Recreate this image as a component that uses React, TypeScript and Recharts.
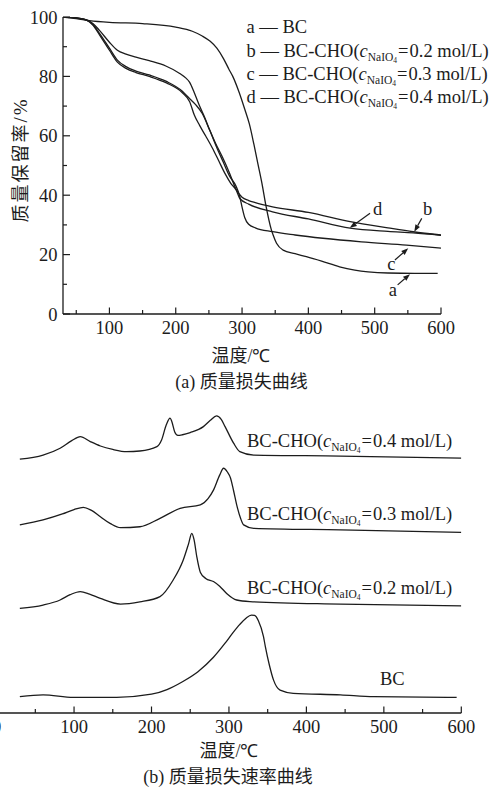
import React from 'react';
import { LineChart, Line, XAxis, YAxis, ReferenceLine } from 'recharts';

const SERIF = 'Liberation Serif';
const CJK = 'Noto Sans CJK SC';
const INK = '#1c1c1c';

// ---------- (a) mass loss curves (TGA) ----------
const tgaXTicks = [50, 100, 150, 200, 250, 300, 350, 400, 450, 500, 550, 600];
const tgaYTicks = [0, 10, 20, 30, 40, 50, 60, 70, 80, 90, 100];

const tgaA_T = [30, 50, 70, 100, 150, 200, 225, 240, 252, 262, 272, 280, 286, 295, 304, 311, 318, 324, 330, 336, 344, 347, 352, 362, 380, 397, 420, 447, 470, 490, 520, 560, 595];
const tgaA_V = [100, 99.5, 98.8, 98.2, 97.8, 96.6, 95.2, 93.6, 91.8, 89.5, 86, 82.5, 80, 75, 69, 64, 57, 50.5, 44, 36.5, 28.5, 26.5, 23.8, 21.5, 20.3, 19.3, 17.8, 15.9, 14.8, 14.2, 13.8, 13.7, 13.7];

const tgaB_T = [30, 50, 65, 75, 85, 100, 112, 125, 140, 160, 185, 206, 215, 221, 228, 236, 244, 251, 260, 270, 281, 291, 300, 310, 320, 346, 400, 463, 520, 558, 600];
const tgaB_V = [100, 99.7, 99, 97.8, 95.5, 91.5, 88.8, 87.5, 86.5, 85.3, 83.5, 81, 79.5, 78, 74.5, 70, 66, 62, 57.5, 53, 47.5, 42, 39.3, 38.2, 37.5, 36.1, 34.2, 31.1, 29, 27.7, 26.6];

const tgaC_T = [30, 50, 65, 75, 85, 100, 112, 125, 140, 160, 186, 210, 221, 230, 240, 251, 262, 272, 281, 291, 296, 300, 304, 310, 320, 346, 380, 422, 480, 548, 600];
const tgaC_V = [100, 99.7, 99, 97.5, 94.5, 89.5, 85.5, 83.3, 81.8, 80.5, 78.3, 75, 72.5, 70.5, 67.5, 62, 56, 51, 46.5, 43, 40, 36, 32.5, 30.2, 29, 27.7, 26.6, 25.5, 24.3, 23.2, 22.2];

const tgaD_T = [30, 50, 65, 75, 85, 100, 112, 125, 140, 160, 186, 210, 221, 228, 236, 245, 255, 265, 275, 283, 291, 297, 310, 346, 400, 463, 520, 558, 600];
const tgaD_V = [100, 99.7, 99, 97.3, 94, 88.8, 84.8, 82.7, 81.3, 80, 77.8, 74.5, 71.5, 67, 63.5, 60, 56, 51.5, 47, 44, 41.8, 38.8, 37, 34.4, 32, 28.9, 27.8, 27.3, 26.5];

// annotation arrows: [tailT, tailV, tipT, tipV]
const arrowD = [493, 33.9, 462.5, 29.0];
const arrowB = [571, 32.2, 559.7, 27.7];
const arrowC = [530.5, 18.2, 550.6, 22.1];
const arrowA = [534.6, 9.8, 553.2, 13.4];

const legendRows = [
  { letter: 'a', conc: '' },
  { letter: 'b', conc: '0.2' },
  { letter: 'c', conc: '0.3' },
  { letter: 'd', conc: '0.4' },
];

// ---------- (b) mass loss rate curves (DTG, offset, arbitrary units) ----------
const dtgXTicks = [0, 50, 100, 150, 200, 250, 300, 350, 400, 450, 500, 550, 600];

const dtgD_T = [30, 60, 82, 97, 108, 121, 134, 150, 168, 185, 207, 213, 219, 224, 226, 230, 234, 240, 250, 267, 276, 284, 290, 295, 306, 314, 332, 444, 600];
const dtgD_V = [81.1, 82.4, 84.6, 87, 88.3, 86.7, 85.3, 84.2, 83.5, 83.7, 85.1, 87.2, 92, 94.2, 93.3, 89.8, 88.7, 88.9, 89.6, 91.5, 93.5, 94.9, 93.8, 91.5, 86.2, 83.5, 82.4, 82.1, 81.4];

const dtgC_T = [30, 60, 85, 100, 112, 122, 134, 147, 160, 185, 211, 237, 263, 273, 280, 288, 293, 298, 302, 306, 310, 315, 319, 332, 444, 600];
const dtgC_V = [60.1, 61.7, 63.6, 65, 65.7, 64.8, 62.7, 60.5, 59.2, 59.5, 62.2, 65.4, 66.5, 68.5, 71.2, 76, 78.2, 77, 75.1, 71, 66.5, 62.2, 60.1, 59, 58.5, 57.7];

const dtgB_T = [30, 60, 82, 95, 108, 120, 134, 160, 185, 211, 228, 241, 248, 252, 255, 258.5, 263, 270, 280, 288, 297, 310, 327, 444, 600];
const dtgB_V = [33.4, 34.5, 36.1, 37.8, 38.8, 38, 36.6, 34.8, 35.5, 37.2, 42.5, 48.9, 54.2, 57.4, 55.3, 49.9, 45, 43, 42, 40.5, 38.2, 36.1, 35.6, 34.8, 34.2];

const dtgBC_T = [30, 60, 99, 155, 200, 220, 240, 260, 280, 295, 305, 314, 322, 329, 333, 338, 344.6, 347, 352, 357.6, 366, 383, 444, 487, 594];
const dtgBC_V = [5.2, 5.8, 5.0, 5.0, 6.0, 7.5, 10, 13.2, 17.8, 22.3, 25.6, 28.3, 30.3, 31.3, 31.2, 29.5, 24.4, 21.2, 15.5, 10.5, 7.3, 6.3, 5.8, 5.2, 5.0];

const dtgLabels = [
  { conc: '0.4' },
  { conc: '0.3' },
  { conc: '0.2' },
];

const zip = (ts: number[], vs: number[]) => ts.map((t, i) => ({ t, v: vs[i] }));

const serifStyle = { fontFamily: SERIF };
const cjkStyle = { fontFamily: CJK };

const TgaYTick = (p: any) => {
  const v = p.payload.value;
  const major = v % 20 === 0;
  return (
    <g>
      <line x1={p.x} x2={p.x + (major ? 7 : 4)} y1={p.y} y2={p.y} stroke={INK} strokeWidth={1.2} />
      {major && (
        <text x={p.x - 5.5} y={p.y + 6.5} textAnchor="end" style={serifStyle} fontSize={18.5} fill={INK}>
          {v}
        </text>
      )}
    </g>
  );
};

const XTick = (p: any) => {
  const v = p.payload.value;
  const major = v % 100 === 0;
  return (
    <g>
      <line x1={p.x} x2={p.x} y1={p.y} y2={p.y - (major ? 6.5 : 4)} stroke={INK} strokeWidth={1.2} />
      {major && (
        <text x={p.x} y={p.y + 19.5} textAnchor="middle" style={serifStyle} fontSize={18.5} fill={INK}>
          {v}
        </text>
      )}
    </g>
  );
};

const arrowShape = (letter: string, lx: number, ly: number) => (p: any) => {
  const { x1, y1, x2, y2 } = p;
  const dx = x2 - x1;
  const dy = y2 - y1;
  const len = Math.hypot(dx, dy) || 1;
  const ux = dx / len;
  const uy = dy / len;
  const hl = 7;
  const hw = 2.6;
  const bx = x2 - ux * hl;
  const by = y2 - uy * hl;
  return (
    <g>
      <line x1={x1} y1={y1} x2={bx} y2={by} stroke={INK} strokeWidth={1.2} />
      <polygon points={`${x2},${y2} ${bx - uy * hw},${by + ux * hw} ${bx + uy * hw},${by - ux * hw}`} fill={INK} />
      <text x={x1 + lx} y={y1 + ly} textAnchor="middle" style={serifStyle} fontSize={18.5} fill={INK}>
        {letter}
      </text>
    </g>
  );
};

const ConcText = ({ x, y, prefix, conc }: { x: number; y: number; prefix: string; conc: string }) => (
  <text x={x} y={y} style={serifStyle} fontSize={18.5} fill={INK}>
    {prefix}BC-CHO(
    <tspan fontStyle="italic">c</tspan>
    <tspan fontSize={11.5} dy={4}>NaIO</tspan>
    <tspan fontSize={7.5} dy={2}>4</tspan>
    <tspan dy={-6} dx={1}>=</tspan>
    <tspan dx={1}>{conc} mol/L)</tspan>
  </text>
);

const lineProps = {
  dataKey: 'v',
  type: 'monotone' as const,
  stroke: INK,
  strokeWidth: 1.3,
  dot: false,
  isAnimationActive: false,
};

export default function App() {
  const axisLine = { stroke: INK, strokeWidth: 1.3 };
  return (
    <div style={{ position: 'absolute', left: 0, top: 0, width: 492, height: 787, background: '#fff', overflow: 'hidden' }}>
      <div style={{ position: 'absolute', left: 0, top: 0 }}>
        <LineChart width={492} height={345} margin={{ top: 17, right: 51, left: 0, bottom: 0 }}>
          <XAxis
            dataKey="t"
            type="number"
            domain={[30, 600]}
            ticks={tgaXTicks}
            interval={0}
            height={31}
            tickSize={0}
            tickMargin={0}
            tickLine={false}
            axisLine={axisLine}
            tick={(p: any) => <XTick {...p} />}
            allowDataOverflow
          />
          <YAxis
            type="number"
            domain={[0, 100]}
            ticks={tgaYTicks}
            interval={0}
            width={63}
            tickSize={0}
            tickMargin={0}
            tickLine={false}
            axisLine={axisLine}
            tick={(p: any) => <TgaYTick {...p} />}
            allowDataOverflow
          />
          <Line {...lineProps} data={zip(tgaA_T, tgaA_V)} />
          <Line {...lineProps} data={zip(tgaB_T, tgaB_V)} />
          <Line {...lineProps} data={zip(tgaC_T, tgaC_V)} />
          <Line {...lineProps} data={zip(tgaD_T, tgaD_V)} />
          <ReferenceLine segment={[{ x: arrowD[0], y: arrowD[1] }, { x: arrowD[2], y: arrowD[3] }]} shape={arrowShape('d', 7.5, 1.5)} />
          <ReferenceLine segment={[{ x: arrowB[0], y: arrowB[1] }, { x: arrowB[2], y: arrowB[3] }]} shape={arrowShape('b', 5.8, -3)} />
          <ReferenceLine segment={[{ x: arrowC[0], y: arrowC[1] }, { x: arrowC[2], y: arrowC[3] }]} shape={arrowShape('c', -3.5, 10)} />
          <ReferenceLine segment={[{ x: arrowA[0], y: arrowA[1] }, { x: arrowA[2], y: arrowA[3] }]} shape={arrowShape('a', -4.7, 11.5)} />
        </LineChart>
      </div>

      <div style={{ position: 'absolute', left: -40, top: 380 }}>
        <LineChart width={520} height={380} margin={{ top: 20, right: 18.7, left: 36.6, bottom: 0 }}>
          <XAxis
            dataKey="t"
            type="number"
            domain={[0, 600]}
            ticks={dtgXTicks}
            interval={0}
            height={47}
            tickSize={0}
            tickMargin={0}
            tickLine={false}
            axisLine={axisLine}
            tick={(p: any) => <XTick {...p} />}
            allowDataOverflow
          />
          <YAxis hide type="number" domain={[0, 100]} allowDataOverflow />
          <Line {...lineProps} data={zip(dtgD_T, dtgD_V)} />
          <Line {...lineProps} data={zip(dtgC_T, dtgC_V)} />
          <Line {...lineProps} data={zip(dtgB_T, dtgB_V)} />
          <Line {...lineProps} data={zip(dtgBC_T, dtgBC_V)} />
        </LineChart>
      </div>

      <svg width={492} height={787} style={{ position: 'absolute', left: 0, top: 0, pointerEvents: 'none' }}>
        {legendRows.map((r, i) =>
          r.conc === '' ? (
            <text key={r.letter} x={246.5} y={33.3 + i * 23.3} style={serifStyle} fontSize={18.5} fill={INK}>
              {r.letter} — BC
            </text>
          ) : (
            <ConcText key={r.letter} x={246.5} y={33.3 + i * 23.3} prefix={`${r.letter} — `} conc={r.conc} />
          )
        )}
        <text
          x={21}
          y={160}
          transform="rotate(-90 21 160)"
          textAnchor="middle"
          dy="0.35em"
          style={cjkStyle}
          fontSize={18}
          letterSpacing={2}
          fill={INK}
        >
          质量保留率<tspan style={serifStyle} fontSize={19}>/%</tspan>
        </text>
        <text x={241} y={362} textAnchor="middle" style={cjkStyle} fontSize={18} fill={INK}>
          温度<tspan style={serifStyle}>/℃</tspan>
        </text>
        <text x={241.5} y={388} textAnchor="middle" style={cjkStyle} fontSize={18} fill={INK}>
          <tspan style={serifStyle}>(a) </tspan>质量损失曲线
        </text>

        {dtgLabels.map((r, i) => (
          <ConcText key={r.conc} x={247} y={446.7 + i * 73.6} prefix="" conc={r.conc} />
        ))}
        <text x={380} y={685} style={serifStyle} fontSize={18.5} fill={INK}>
          BC
        </text>
        <text x={229} y={757} textAnchor="middle" style={cjkStyle} fontSize={18} fill={INK}>
          温度<tspan style={serifStyle}>/℃</tspan>
        </text>
        <text x={228} y={783} textAnchor="middle" style={cjkStyle} fontSize={18} fill={INK}>
          <tspan style={serifStyle}>(b) </tspan>质量损失速率曲线
        </text>
      </svg>
    </div>
  );
}
